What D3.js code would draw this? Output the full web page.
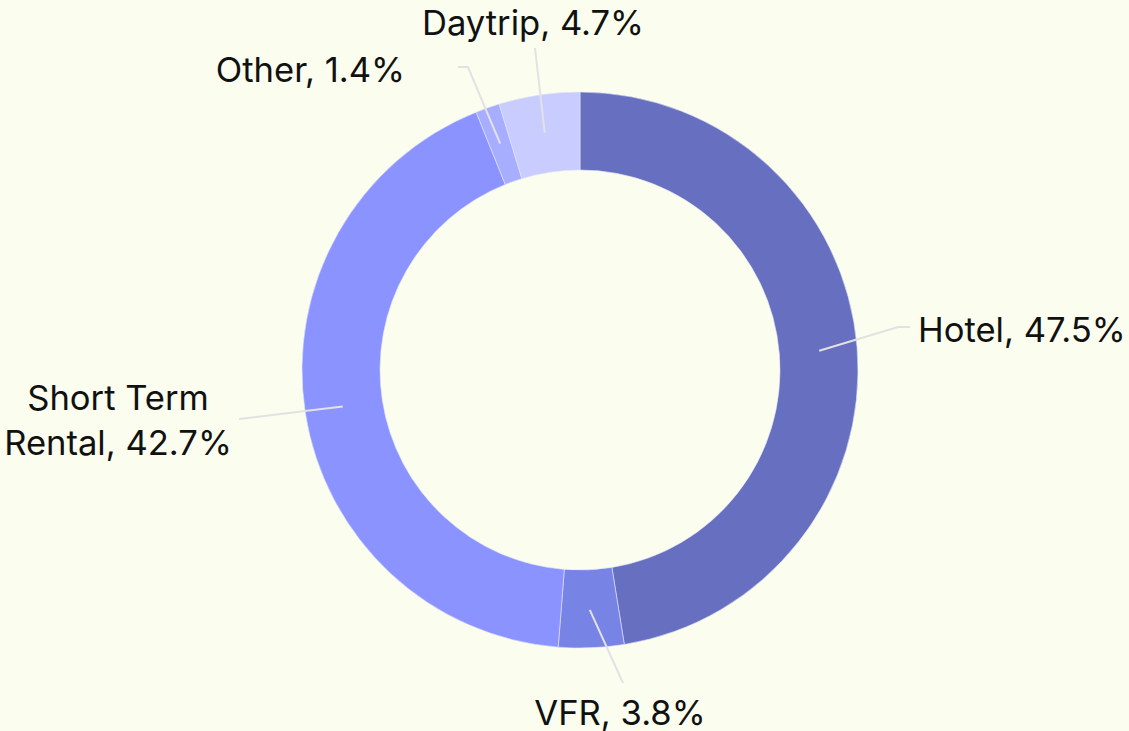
<!DOCTYPE html>
<html><head><meta charset="utf-8">
<script src="https://cdn.jsdelivr.net/npm/d3@7"></script>
<style>
html,body{margin:0;padding:0;background:#fbfeee;}
svg{display:block;}
</style></head>
<body>
<svg id="c" width="1129" height="731"></svg>
<script>
const categories = ["Hotel", "VFR", "Short Term Rental", "Other", "Daytrip"];
const values = [47.5, 3.8, 42.7, 1.4, 4.7];
const labelLines = [["Hotel, 47.5%"], ["VFR, 3.8%"], ["Short Term", "Rental, 42.7%"], ["Other, 1.4%"], ["Daytrip, 4.7%"]];
const colors = ["#666fc0", "#7883e6", "#8a93ff", "#a7aeff", "#c9ccff"];

// layout (relative to chart centre): elbow, end of leader, text anchor
const layout = [
  {elbow:[318,-43], end:[330,-43], text:[338,-40], anchor:"start"},
  {elbow:[43,313], end:[43,313], text:[40,343], anchor:"middle"},
  {elbow:[-275,41], end:[-341,49], text:[-462,50], anchor:"middle"},
  {elbow:[-112,-303], end:[-122,-303], text:[-175,-300], anchor:"end"},
  {elbow:[-45,-322], end:[-45,-322], text:[-47,-347], anchor:"middle"}
];

const svg = d3.select("#c");
const cx = 580, cy = 370, rOuter = 278, rInner = 200, rLabel = 240;
const g = svg.append("g").attr("transform", `translate(${cx},${cy})`);

const data = categories.map((c,i)=>({name:c, value:values[i], i}));
const pie = d3.pie().value(d=>d.value).sort(null);
const arcs = pie(data);
const arc = d3.arc().innerRadius(rInner).outerRadius(rOuter);
const labelArc = d3.arc().innerRadius(rLabel).outerRadius(rLabel);
const color = d3.scaleOrdinal().domain(categories).range(colors);

g.selectAll("path.slice").data(arcs).join("path")
  .attr("class","slice")
  .attr("d", arc)
  .attr("fill", d=>color(d.data.name))
  .attr("stroke", "#e4e6f7")
  .attr("stroke-width", 0.6);

g.selectAll("polyline").data(arcs).join("polyline")
  .attr("fill","none")
  .attr("stroke","#e2e2e2")
  .attr("stroke-width",2)
  .attr("points", d=>{
    const c = labelArc.centroid(d);
    const L = layout[d.data.i];
    return [c, L.elbow, L.end].map(p=>p.join(",")).join(" ");
  });

const texts = g.selectAll("text.lbl").data(arcs).join("text")
  .attr("class","lbl")
  .attr("font-family","Inter, Roboto, sans-serif")
  .attr("font-size", 34.6)
  .attr("fill","#111")
  .attr("text-anchor", d=>layout[d.data.i].anchor)
  .attr("transform", d=>`translate(${layout[d.data.i].text})`);
texts.each(function(d){
  const lines = labelLines[d.data.i];
  const n = lines.length;
  d3.select(this).selectAll("tspan").data(lines).join("tspan")
    .attr("x",0)
    .attr("y",(l,j)=> (j-(n-1)/2)*45)
    .attr("dy","0.35em")
    .text(l=>l);
});
</script>
</body></html>
